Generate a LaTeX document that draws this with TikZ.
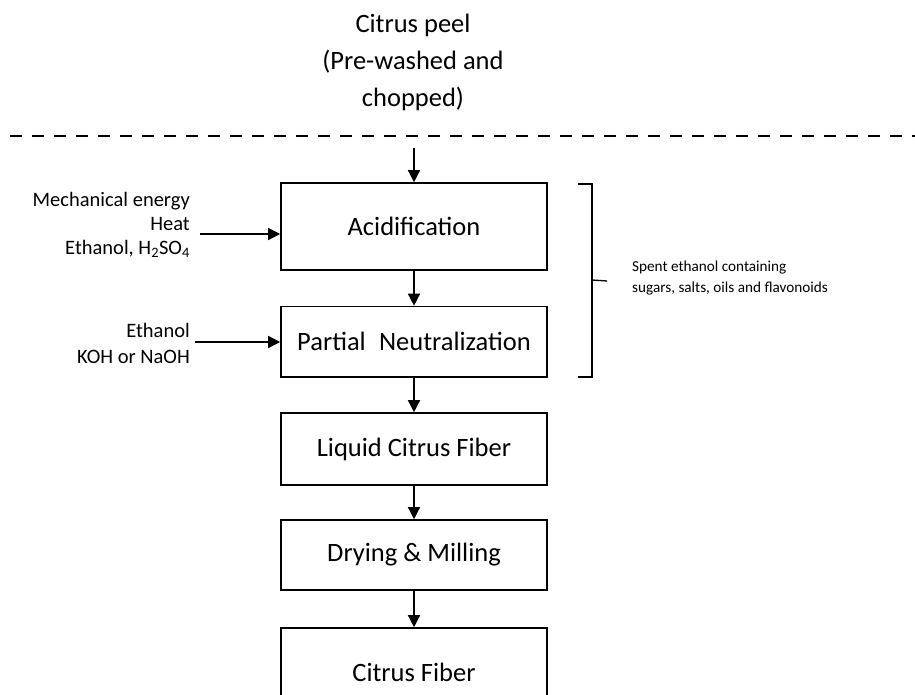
\documentclass[tikz,border=0pt]{standalone}
\usepackage{fontspec}
\setmainfont{Carlito}
\usetikzlibrary{arrows.meta}

\begin{document}
\begin{tikzpicture}[x=1pt,y=-1pt,
  stage/.style={draw,line width=1.6pt,minimum width=266pt,inner sep=0pt,font=\fontsize{26.5}{30}\selectfont},
  feed/.style={anchor=east,align=right,inner sep=0pt,font=\fontsize{20.5}{24}\selectfont},
  arr/.style={line width=1.4pt,-{Triangle[length=12pt,width=12pt]}}]
  \useasboundingbox (0,0) rectangle (915,695);
  \clip (0,0) rectangle (915,695);
  \node[align=center,font=\fontsize{26.5}{37}\selectfont] (peel) at (413,62) {Citrus peel\\(Pre-washed and\\chopped)};
  \draw[line width=2pt,dash pattern=on 12pt off 10pt] (10,136) -- (915,136);
  \node[stage,minimum height=87pt] (acid) at (414,226.5) {Acidification};
  \node[stage,minimum height=70.5pt] (neut) at (414,341.75) {Partial\hspace{0.5em}Neutralization};
  \node[stage,minimum height=72pt] (liquid) at (414,449) {Liquid Citrus Fiber};
  \node[stage,minimum height=70pt] (dry) at (414,555) {Drying \& Milling};
  \node[stage,minimum height=88pt] (fiber) at (414,672) {Citrus Fiber};
  \coordinate (start) at (414,148);
  \draw[arr] (start) -- (acid.north);
  \draw[arr] (acid) -- (neut);
  \draw[arr] (neut) -- (liquid);
  \draw[arr] (liquid) -- (dry);
  \draw[arr] (dry) -- (fiber);
  \node[feed] (inacid) at (190,225) {Mechanical energy\\Heat\\Ethanol, H\textsubscript{2}SO\textsubscript{4}};
  \node[feed,font=\fontsize{20.5}{26}\selectfont] (inneut) at (190,343) {Ethanol\\KOH or NaOH};
  \coordinate (a1) at (200,234);
  \coordinate (a2) at (195,342);
  \draw[arr] (a1) -- (a1 -| acid.west);
  \draw[arr] (a2) -- (a2 -| neut.west);
  \draw[line width=1.3pt] (578,184) -- (592,184) -- (592,377) -- (578,377);
  \draw[line width=1.3pt] (592,280) -- (607,281);
  \node[anchor=west,align=left,inner sep=0pt,font=\fontsize{15.2}{20.5}\selectfont] (spent) at (632,278) {Spent ethanol containing\\sugars, salts, oils and flavonoids};
\end{tikzpicture}
\end{document}
